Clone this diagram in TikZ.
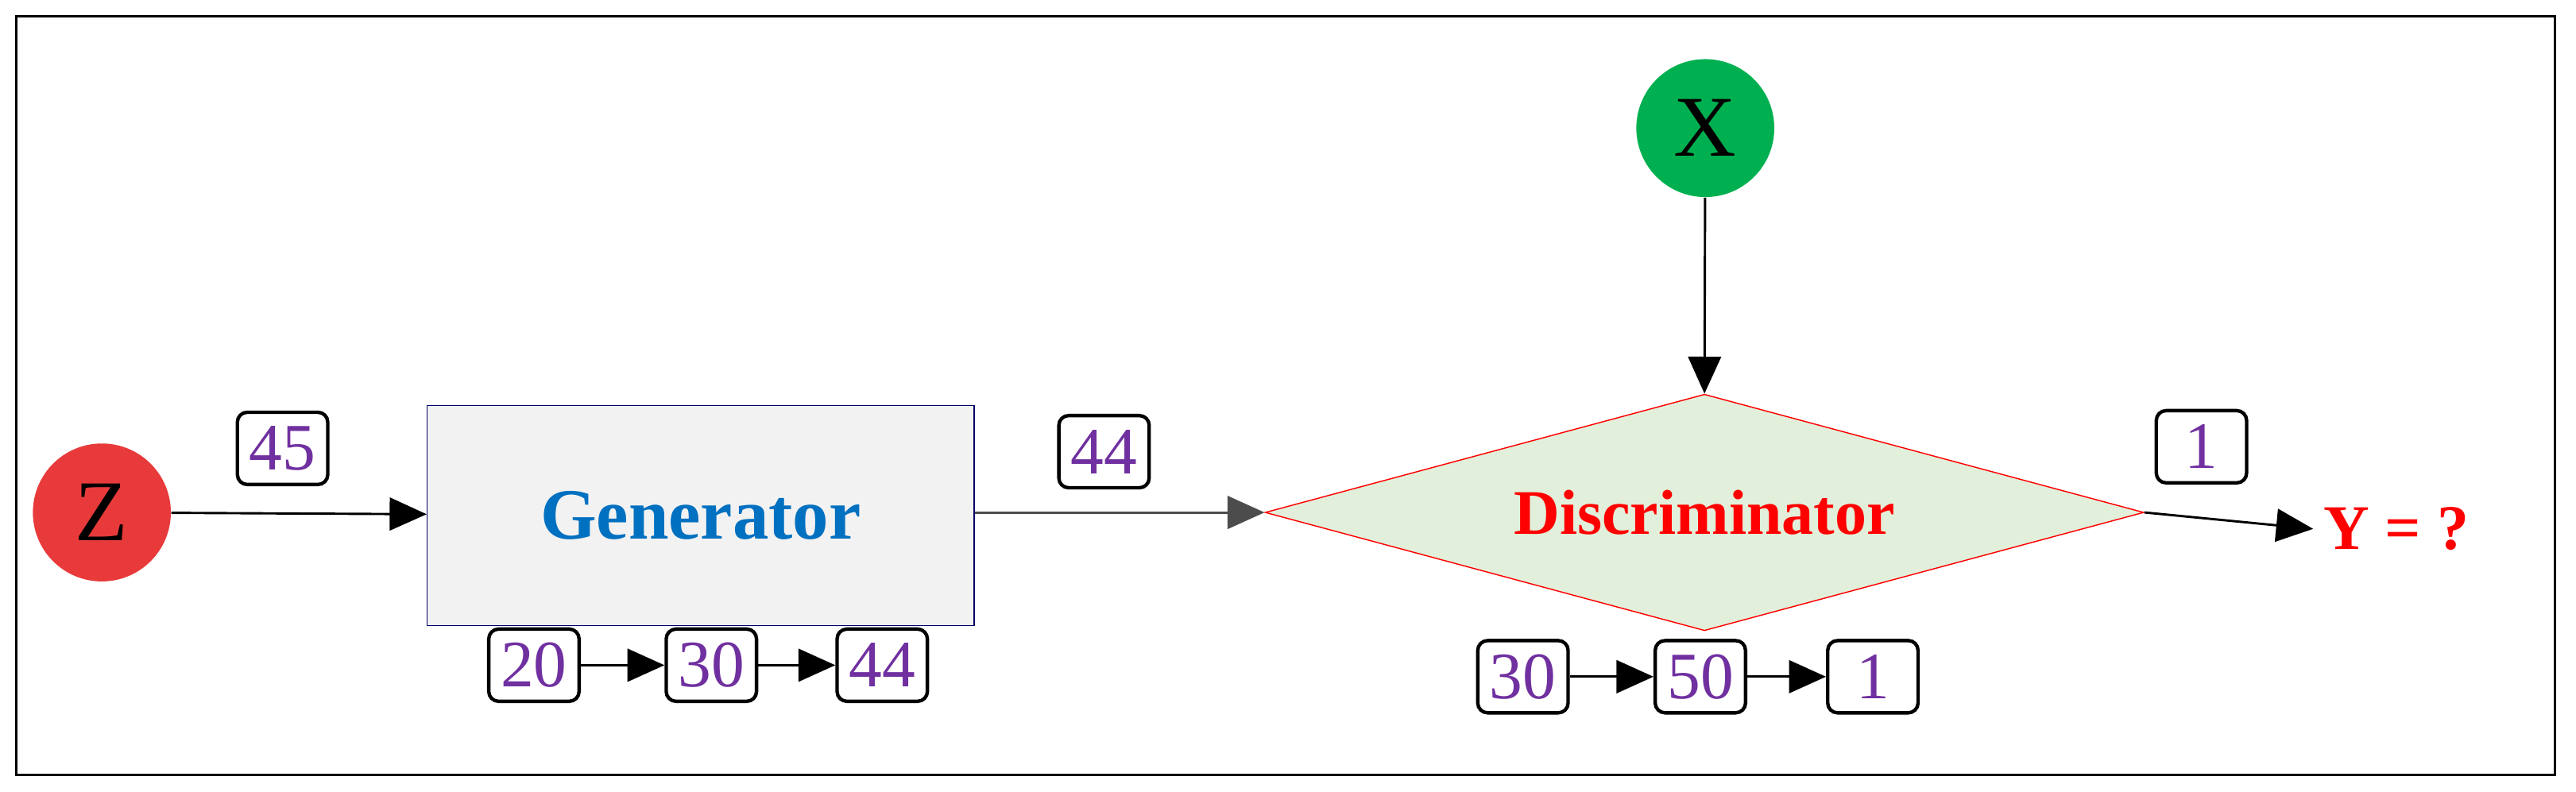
\documentclass[tikz,border=0pt]{standalone}
\usepackage{fontspec}
\setmainfont{Liberation Serif}
\usetikzlibrary{shapes.geometric,arrows.meta,positioning}
\definecolor{numc}{RGB}{112,48,160}
\definecolor{genc}{RGB}{0,112,192}
\definecolor{zc}{RGB}{232,58,58}
\definecolor{xc}{RGB}{0,176,80}
\definecolor{disc}{RGB}{226,239,218}
\begin{document}
\begin{tikzpicture}[x=0.02cm, y=-0.02cm, >={Triangle[length=0.45cm,width=0.4cm]}]
    \tikzset{
        num/.style    =   { rectangle
                          , rounded corners=0.12cm
                          , draw=black
                          , very thick
                          , text=numc
                          , minimum width=1.1cm
                          , minimum height=0.88cm
                          , inner sep=1pt
                          , font=\fontsize{23}{23}\selectfont
        }
        , var/.style  =   { circle
                          , minimum size=1.68cm
                          , font=\fontsize{30}{30}\selectfont
        }
        , arrow/.style =  { thick, ->
        }
    }
    \useasboundingbox (0,0) rectangle (1568,482);
    \draw[thick] (10,10) rectangle (1555,472);

    \node(z)[var, fill=zc] at (62,312) {Z};
    \node(x)[var, fill=xc] at (1038,78) {X};
    \node(gen)[draw=blue!40!black, fill=gray!10, minimum width=6.66cm, minimum height=2.68cm,
        text=genc, font=\fontsize{25}{25}\selectfont\bfseries] at (426.5,314) {Generator};
    \node(dis)[diamond, aspect=3.7, draw=red, fill=disc, inner sep=0pt,
        minimum width=10.7cm, minimum height=2.88cm,
        text=red, font=\fontsize{22}{22}\selectfont\bfseries] at (1037.5,312) {Discriminator};
    \node(y)[text=red, font=\fontsize{22}{22}\selectfont\bfseries, anchor=west] at (1408,322) {Y = ?};

    \node(n45)[num] at (172,273) {45};
    \node(n44)[num] at (672,275) {44};
    \node(n1)[num]  at (1340,272) {1};

    \node(g1)[num] at (325,405) {20};
    \node(g2)[num] at (433,405) {30};
    \node(g3)[num] at (537,405) {44};
    \node(d1)[num] at (927,412) {30};
    \node(d2)[num] at (1035,412) {50};
    \node(d3)[num] at (1140,412) {1};

    \draw[arrow] (z) -- (gen);
    \draw[arrow, gray!60!black] (gen.east |- dis.west) -- (dis.west);
    \draw[arrow] (x) -- (dis.north);
    \draw[arrow] (dis.east) -- (y.west);
    \draw[arrow] (g1) -- (g2);
    \draw[arrow] (g2) -- (g3);
    \draw[arrow] (d1) -- (d2);
    \draw[arrow] (d2) -- (d3);
\end{tikzpicture}
\end{document}
